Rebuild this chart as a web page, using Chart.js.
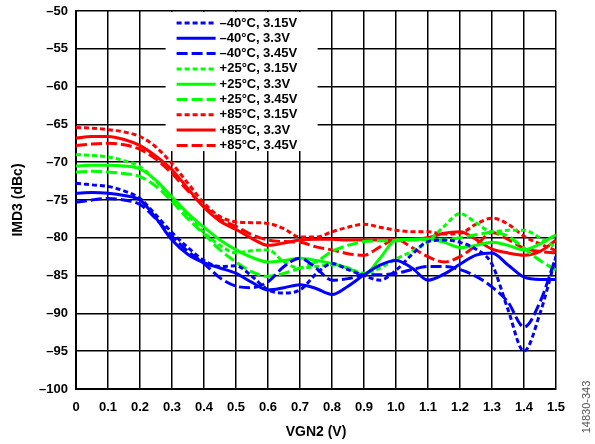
<!DOCTYPE html>
<html>
<head>
<meta charset="utf-8">
<script src="https://cdn.jsdelivr.net/npm/chart.js@4.4.0/dist/chart.umd.min.js"></script>
<style>
  html, body { margin: 0; padding: 0; background: #fff; }
  #wrap { width: 595px; height: 444px; }
</style>
</head>
<body>
<div id="wrap"><canvas id="imd3-chart" width="595" height="444"></canvas></div>
<script>
// VGN2 sweep, 0 V to 1.5 V in 50 mV steps
const vgn2 = [0, 0.05, 0.1, 0.15, 0.2, 0.25, 0.3, 0.35, 0.4, 0.45, 0.5, 0.55, 0.6, 0.65, 0.7, 0.75,
  0.8, 0.85, 0.9, 0.95, 1.0, 1.05, 1.1, 1.15, 1.2, 1.25, 1.3, 1.35, 1.4, 1.45, 1.5];

// IMD3 (dBc)
const m40_315 = [-72.8, -73.0, -73.2, -73.8, -74.8, -77.0, -79.3, -81.3, -83.0, -83.8, -83.7, -85.1, -86.9, -87.3, -86.9, -84.8,
  -83.4, -84.2, -85.0, -85.6, -84.3, -82.2, -80.5, -80.3, -80.6, -81.5, -83.5, -89.5, -95.0, -90.0, -82.5];
const m40_33 = [-74.1, -74.0, -74.1, -74.4, -75.0, -77.4, -80.3, -82.2, -83.3, -84.0, -84.7, -85.9, -86.9, -86.6, -86.2, -86.7,
  -87.5, -86.4, -84.9, -83.6, -83.0, -84.0, -85.6, -84.8, -83.5, -82.3, -82.0, -83.6, -85.2, -85.5, -85.5];
const m40_345 = [-75.3, -75.0, -74.8, -75.0, -75.6, -77.5, -79.8, -81.8, -83.4, -85.3, -86.4, -86.6, -85.8, -83.8, -82.7, -84.0,
  -85.6, -85.4, -84.9, -84.9, -84.7, -84.2, -83.8, -83.8, -84.2, -85.1, -86.5, -88.5, -91.8, -88.5, -82.5];
const p25_315 = [-69.0, -69.1, -69.3, -69.8, -70.6, -72.5, -74.8, -77.0, -79.3, -81.0, -82.0, -81.7, -81.6, -83.2, -84.0, -83.8,
  -83.6, -84.0, -84.7, -84.0, -82.8, -81.8, -80.5, -78.5, -76.8, -78.0, -79.2, -79.0, -79.0, -80.0, -81.3];
const p25_33 = [-70.5, -70.4, -70.4, -70.5, -70.9, -72.4, -74.6, -76.8, -78.6, -80.3, -81.6, -82.6, -83.2, -83.0, -82.7, -83.0,
  -83.4, -84.0, -84.9, -82.7, -80.3, -80.2, -80.2, -80.6, -81.3, -81.0, -80.6, -81.0, -81.6, -80.8, -79.6];
const p25_345 = [-71.3, -71.2, -71.3, -71.5, -71.9, -73.2, -75.2, -77.5, -79.5, -81.6, -83.2, -84.5, -85.1, -84.7, -84.0, -83.2,
  -81.8, -81.0, -80.5, -80.4, -80.4, -80.3, -80.2, -80.2, -80.0, -79.6, -79.3, -79.8, -81.4, -83.0, -84.3];
const p85_315 = [-65.4, -65.5, -65.7, -66.0, -66.6, -68.0, -70.2, -72.8, -75.4, -77.2, -77.9, -78.0, -78.1, -78.8, -79.9, -79.9,
  -79.2, -78.6, -78.2, -78.6, -79.0, -79.2, -79.2, -79.5, -79.4, -78.2, -77.4, -78.2, -79.8, -80.8, -81.7];
const p85_33 = [-66.8, -66.6, -66.6, -67.0, -67.8, -69.2, -71.0, -73.5, -76.0, -77.8, -78.9, -80.1, -81.0, -80.7, -80.3, -80.2,
  -80.2, -80.3, -80.3, -80.3, -80.3, -80.2, -80.0, -79.4, -79.2, -80.2, -81.5, -82.0, -82.3, -81.8, -80.3];
const p85_345 = [-67.8, -67.6, -67.5, -67.7, -68.3, -69.6, -71.5, -73.8, -75.8, -77.5, -78.5, -79.6, -80.3, -80.5, -80.6, -81.2,
  -81.6, -82.1, -82.3, -81.2, -80.2, -81.3, -82.5, -83.2, -82.5, -81.0, -79.3, -80.2, -81.4, -81.8, -82.0];

const seriesLabels = ['–40°C, 3.15V', '–40°C, 3.3V', '–40°C, 3.45V',
  '+25°C, 3.15V', '+25°C, 3.3V', '+25°C, 3.45V',
  '+85°C, 3.15V', '+85°C, 3.3V', '+85°C, 3.45V'];

const BLUE = '#0000ff', GREEN = '#00ff00', RED = '#ff0000';
const DOT = [5, 3], DASH = [11, 4], SOLID = [];

const mkSet = (label, values, color, dash) => ({
  label: label,
  data: values.map((v, i) => ({ x: vgn2[i], y: v })),
  borderColor: color,
  backgroundColor: color,
  borderDash: dash,
  borderWidth: 3,
  pointRadius: 0,
  fill: false,
  cubicInterpolationMode: 'monotone'
});

const datasets = [
  mkSet(seriesLabels[0], m40_315, BLUE, DOT),
  mkSet(seriesLabels[1], m40_33, BLUE, SOLID),
  mkSet(seriesLabels[2], m40_345, BLUE, DASH),
  mkSet(seriesLabels[3], p25_315, GREEN, DOT),
  mkSet(seriesLabels[4], p25_33, GREEN, SOLID),
  mkSet(seriesLabels[5], p25_345, GREEN, DASH),
  mkSet(seriesLabels[6], p85_315, RED, DOT),
  mkSet(seriesLabels[7], p85_33, RED, SOLID),
  mkSet(seriesLabels[8], p85_345, RED, DASH)
];

const FONT = "'Liberation Sans', Arial, sans-serif";

// legend drawn inside the plot, on a white box over the grid
const boxLegend = {
  id: 'boxLegend',
  beforeDatasetsDraw(chart) {
    const ctx = chart.ctx;
    const x0 = chart.scales.x.getPixelForValue(0.28);
    const y0 = chart.chartArea.top + 1;
    ctx.save();
    ctx.fillStyle = '#fff';
    ctx.fillRect(x0, y0, 152, 139);
    ctx.font = 'bold 13px ' + FONT;
    ctx.textBaseline = 'middle';
    chart.data.datasets.forEach((ds, i) => {
      const y = y0 + 11 + i * 15.3;
      ctx.strokeStyle = ds.borderColor;
      ctx.lineWidth = 3;
      ctx.setLineDash(ds.borderDash);
      ctx.beginPath();
      ctx.moveTo(x0 + 11, y);
      ctx.lineTo(x0 + 50, y);
      ctx.stroke();
      ctx.setLineDash([]);
      ctx.fillStyle = '#000';
      ctx.fillText(ds.label, x0 + 54, y);
    });
    ctx.restore();
  },
  afterDraw(chart) {
    const ctx = chart.ctx;
    ctx.save();
    ctx.translate(587, 407);
    ctx.rotate(-Math.PI / 2);
    ctx.font = '11px ' + FONT;
    ctx.fillStyle = '#555';
    ctx.textAlign = 'center';
    ctx.textBaseline = 'middle';
    ctx.fillText('14830-343', 0, 0);
    ctx.restore();
  }
};

new Chart(document.getElementById('imd3-chart').getContext('2d'), {
  type: 'line',
  data: { datasets: datasets },
  plugins: [boxLegend],
  options: {
    responsive: false,
    animation: false,
    layout: { padding: { left: 0, right: 39, top: 11, bottom: 0 } },
    plugins: { legend: { display: false }, tooltip: { enabled: false } },
    scales: {
      x: {
        type: 'linear',
        min: 0,
        max: 1.5,
        afterFit: s => { s.height = 55; },
        ticks: {
          stepSize: 0.1,
          padding: 11,
          color: '#000',
          font: { family: FONT, size: 13, weight: 'bold' },
          callback: v => (Math.abs(v) < 1e-9 ? '0' : v.toFixed(1))
        },
        grid: { color: '#000', lineWidth: 1.5, drawTicks: false },
        border: { color: '#000', width: 2 },
        title: {
          display: true,
          text: 'VGN2 (V)',
          color: '#000',
          font: { family: FONT, size: 14, weight: 'bold' },
          padding: { top: 0, bottom: 3 }
        }
      },
      y: {
        min: -100,
        max: -50,
        afterFit: s => { s.width = 76; s.paddingTop = 0; s.paddingBottom = 0; },
        ticks: {
          stepSize: 5,
          padding: 8,
          color: '#000',
          font: { family: FONT, size: 13, weight: 'bold' },
          callback: v => (v < 0 ? '–' + Math.abs(v) : String(v))
        },
        grid: { color: '#000', lineWidth: 1.5, drawTicks: false },
        border: { color: '#000', width: 2 },
        title: {
          display: true,
          text: 'IMD3 (dBc)',
          color: '#000',
          font: { family: FONT, size: 14, weight: 'bold' },
          padding: { top: 10, bottom: 0 }
        }
      }
    }
  }
});
</script>
</body>
</html>
